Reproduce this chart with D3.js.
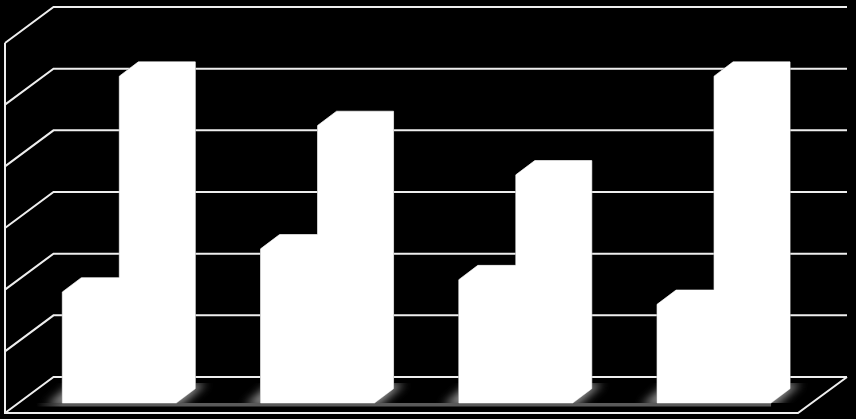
<!DOCTYPE html>
<html>
<head>
<meta charset="utf-8">
<script src="https://cdn.jsdelivr.net/npm/d3@7"></script>
<style>
  html, body { margin: 0; padding: 0; background: #000; overflow: hidden; }
  svg { display: block; }
</style>
</head>
<body>
<svg></svg>
<script>
const categories = ['A', 'B', 'C', 'D'];
const series1 = [1.8, 2.5, 2.0, 1.6];
const series2 = [5.3, 4.5, 3.7, 5.3];
const yTicks = [0, 1, 2, 3, 4, 5, 6];

const width = 856;
const height = 419;
// floor front edge and the wall's depth offset
const floor = {left: 5, right: 798, front: 413};
const wall = {dx: 48.5, dy: 36};
const bar = {dx: 19, dy: 14.3, lift: 10, inset: 57.3, width: 57};

const svg = d3.select('svg').attr('width', width).attr('height', height);

const x = d3.scaleBand().domain(categories).range([floor.left, floor.right]);
const xInner = d3.scaleBand().domain([0, 1]).range([0, bar.width * 2]);
const y = d3.scaleLinear().domain([0, 6]).range([floor.front, floor.front - 370]);

const base = y(0) - bar.lift;
const firstLeft = x(categories[0]) + bar.inset;
const lastRight = x(categories[3]) + bar.inset + bar.width * 2;

const defs = svg.append('defs');
defs.append('filter').attr('id', 'blur')
  .attr('filterUnits', 'userSpaceOnUse')
  .attr('x', 0).attr('y', 340).attr('width', width).attr('height', 79)
  .append('feGaussianBlur').attr('stdDeviation', 5);
defs.append('clipPath').attr('id', 'floorClip')
  .append('rect').attr('x', 0).attr('y', base - 20).attr('width', width).attr('height', 20);
const fade = defs.append('linearGradient').attr('id', 'stripFade')
  .attr('gradientUnits', 'userSpaceOnUse')
  .attr('x1', firstLeft - 26).attr('x2', firstLeft).attr('y1', 0).attr('y2', 0);
fade.append('stop').attr('offset', 0).attr('stop-color', '#5a5a5a').attr('stop-opacity', 0);
fade.append('stop').attr('offset', 1).attr('stop-color', '#5a5a5a').attr('stop-opacity', 1);

const line = d3.line();

// grid: front wall point, back wall point, along the back wall
const grid = svg.append('g')
  .attr('fill', 'none')
  .attr('stroke', '#eee')
  .attr('stroke-width', 2);
yTicks.forEach(t => {
  grid.append('path').attr('d', line([
    [floor.left, y(t)],
    [floor.left + wall.dx, y(t) - wall.dy],
    [floor.right + wall.dx + 0.5, y(t) - wall.dy]
  ]));
});
grid.append('path').attr('d', line([[floor.left, y(6)], [floor.left, y(0)], [floor.right, y(0)], [floor.right + wall.dx + 0.5, y(0) - wall.dy]]));

// soft shadow on the floor behind each group, cut off at the bar base
const shadow = svg.append('g').attr('clip-path', 'url(#floorClip)');
categories.forEach(c => {
  const left = x(c) + bar.inset;
  const right = left + bar.width * 2;
  shadow.append('path')
    .attr('fill', '#909090')
    .attr('filter', 'url(#blur)')
    .attr('d', line([[left - 16, base + 3], [left + 10, base - 20], [right + 30, base - 20], [right + 4, base + 3]]) + 'Z');
});
// thin grey strip running under all the columns
svg.append('rect')
  .attr('x', firstLeft - 26)
  .attr('y', base)
  .attr('width', lastRight - firstLeft + 26)
  .attr('height', 3.5)
  .attr('fill', 'url(#stripFade)');

// columns are flat white, so front, side and top merge into one shape
function columnPath(c, i, v) {
  const x0 = x(c) + bar.inset + xInner(i);
  const x1 = x0 + bar.width;
  const top = y(v) - bar.lift;
  return line([
    [x0, base],
    [x0, top],
    [x0 + bar.dx, top - bar.dy],
    [x1 + bar.dx, top - bar.dy],
    [x1 + bar.dx, base - bar.dy],
    [x1, base]
  ]) + 'Z';
}

// grey outline pass first, then the fills on top to hide the inner edges
const outlines = svg.append('g')
  .attr('fill', 'none')
  .attr('stroke', '#aaa')
  .attr('stroke-width', 1);
const columns = svg.append('g').attr('fill', '#fff');

categories.forEach((c, i) => {
  [[1, series2[i]], [0, series1[i]]].forEach(([s, v]) => {
    outlines.append('path').attr('d', columnPath(c, s, v));
    columns.append('path').attr('d', columnPath(c, s, v));
  });
});
</script>
</body>
</html>
